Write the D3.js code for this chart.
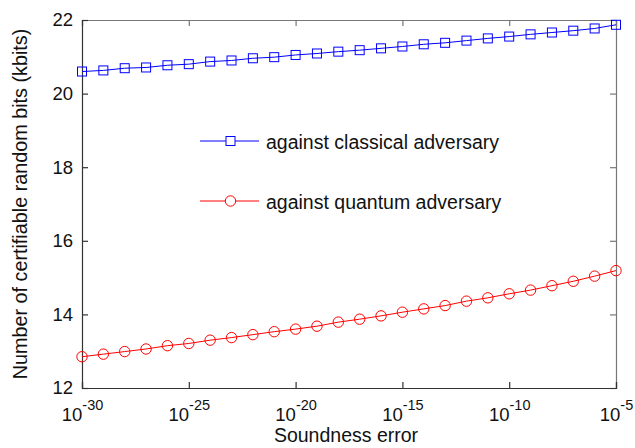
<!DOCTYPE html>
<html>
<head>
<meta charset="utf-8">
<script src="https://cdn.jsdelivr.net/npm/d3@7"></script>
<style>
  body { margin: 0; background: #fff; }
  svg text { font-family: "Liberation Sans", Arial, sans-serif; fill: #111; }
</style>
</head>
<body>
<div id="chart"></div>
<script>
// Data: one point per decade from 1e-30 to 1e-5
const exponents = d3.range(-30, -4);
const classical = [20.60, 20.63, 20.69, 20.71, 20.77, 20.80, 20.87, 20.90, 20.96, 20.99, 21.05, 21.09,
  21.14, 21.18, 21.23, 21.28, 21.34, 21.38, 21.44, 21.50, 21.55, 21.61, 21.66, 21.71, 21.77, 21.87];
const quantum = [12.85, 12.92, 12.99, 13.06, 13.15, 13.21, 13.30, 13.37, 13.45, 13.53, 13.60, 13.68,
  13.79, 13.87, 13.96, 14.06, 14.15, 14.24, 14.36, 14.45, 14.56, 14.66, 14.78, 14.90, 15.04, 15.19];
const xTickExps = [-30, -25, -20, -15, -10, -5];
const yTicks = [12, 14, 16, 18, 20, 22];
const seriesNames = ['against classical adversary', 'against quantum adversary'];

const width = 635, height = 448;
const margin = { top: 20, right: 19, bottom: 60, left: 82 };
const w = width - margin.left - margin.right;
const h = height - margin.top - margin.bottom;

const svg = d3.select('#chart').append('svg')
  .attr('width', width)
  .attr('height', height);

const g = svg.append('g')
  .attr('transform', `translate(${margin.left},${margin.top})`);

const x = d3.scaleLog().domain([1e-30, 1e-5]).range([0, w]);
const y = d3.scaleLinear().domain([12, 22]).range([h, 0]);

// box + inward ticks
const xTickVals = xTickExps.map(e => Math.pow(10, e));
g.append('g').attr('class', 'top-axis')
  .call(d3.axisTop(x).tickValues(xTickVals).tickSize(-6).tickFormat(''))
  .call(a => a.selectAll('path, line').attr('stroke', '#777').attr('stroke-width', 1.2));
g.append('g').attr('class', 'right-axis')
  .attr('transform', `translate(${w},0)`)
  .call(d3.axisRight(y).tickValues(yTicks).tickSize(-6).tickFormat(''))
  .call(a => a.selectAll('path, line').attr('stroke', '#777').attr('stroke-width', 1.2));

const xAxis = g.append('g').attr('class', 'x-axis')
  .attr('transform', `translate(0,${h})`)
  .call(d3.axisBottom(x).tickValues(xTickVals).tickSize(-6).tickFormat(''));
xAxis.selectAll('path, line').attr('stroke', '#333').attr('stroke-width', 1.2);
xAxis.selectAll('.tick').each(function(d, i) {
  const t = d3.select(this).append('text')
    .attr('y', 33)
    .attr('text-anchor', 'middle')
    .style('font-size', '18.5px')
    .attr('fill', '#111');
  t.append('tspan').text('10');
  t.append('tspan').attr('dy', -11).style('font-size', '14.5px').text(String(xTickExps[i]));
});

const yAxis = g.append('g').attr('class', 'y-axis')
  .call(d3.axisLeft(y).tickValues(yTicks).tickSize(-6).tickPadding(9));
yAxis.selectAll('path, line').attr('stroke', '#333').attr('stroke-width', 1.2);
yAxis.selectAll('text').style('font-size', '18.5px').attr('fill', '#111');

// series
const line = d3.line()
  .x((d, i) => x(Math.pow(10, exponents[i])))
  .y(d => y(d));

g.append('path').datum(classical)
  .attr('d', line).attr('fill', 'none').attr('stroke', '#0000ff').attr('stroke-width', 1);
g.append('path').datum(quantum)
  .attr('d', line).attr('fill', 'none').attr('stroke', '#ff0000').attr('stroke-width', 1);

g.selectAll('.sq').data(classical).enter().append('rect')
  .attr('class', 'sq')
  .attr('x', (d, i) => x(Math.pow(10, exponents[i])) - 4.5)
  .attr('y', d => y(d) - 4.5)
  .attr('width', 9).attr('height', 9)
  .attr('fill', 'none').attr('stroke', '#0000ff').attr('stroke-width', 1);

g.selectAll('.ci').data(quantum).enter().append('circle')
  .attr('class', 'ci')
  .attr('cx', (d, i) => x(Math.pow(10, exponents[i])))
  .attr('cy', d => y(d))
  .attr('r', 5.2)
  .attr('fill', 'none').attr('stroke', '#ff0000').attr('stroke-width', 1);

// legend
const legend = svg.append('g').attr('transform', 'translate(200,141)');
const colors = ['#0000ff', '#ff0000'];
seriesNames.forEach((name, i) => {
  const lg = legend.append('g').attr('transform', `translate(0,${i * 60})`);
  lg.append('line').attr('x1', 0).attr('x2', 59).attr('y1', 0).attr('y2', 0)
    .attr('stroke', colors[i]).attr('stroke-width', 1);
  if (i === 0) {
    lg.append('rect').attr('x', 26).attr('y', -4.5).attr('width', 9).attr('height', 9)
      .attr('fill', '#fff').attr('stroke', colors[i]);
  } else {
    lg.append('circle').attr('cx', 30.5).attr('cy', 0).attr('r', 5.2)
      .attr('fill', '#fff').attr('stroke', colors[i]);
  }
  lg.append('text').attr('x', 66).attr('y', 0).attr('dy', '0.43em')
    .style('font-size', '19.5px').text(name);
});

// axis titles
svg.append('text')
  .attr('transform', `translate(27,204) rotate(-90)`)
  .attr('text-anchor', 'middle')
  .style('font-size', '19.8px')
  .text('Number of certifiable random bits (kbits)');
svg.append('text')
  .attr('x', 346)
  .attr('y', 442)
  .attr('text-anchor', 'middle')
  .style('font-size', '19.5px')
  .text('Soundness error');
</script>
</body>
</html>
